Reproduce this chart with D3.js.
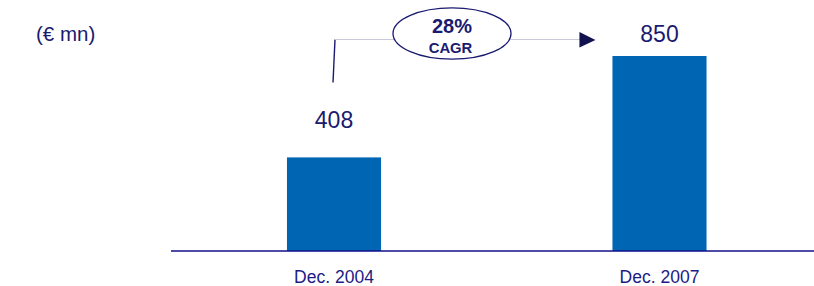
<!DOCTYPE html>
<html>
<head>
<meta charset="utf-8">
<script src="https://cdn.jsdelivr.net/npm/d3@7"></script>
<style>
  body { margin: 0; background: #fff; }
  text { font-family: "Liberation Sans", Arial, sans-serif; }
</style>
</head>
<body>
<div id="chart"></div>
<script>
const width = 814, height = 286;

// data
const categories = ["Dec. 2004", "Dec. 2007"];
const values = [408, 850];
const unitLabel = "(€ mn)";
const cagrPct = "28%";
const cagrLabel = "CAGR";

const navy = "#1a1a70";
const barColor = "#0066b3";

const svg = d3.select("#chart").append("svg")
    .attr("width", width)
    .attr("height", height);

const x = d3.scaleBand()
    .domain(categories)
    .range([171.25, 822.25])
    .paddingInner(0.711)
    .paddingOuter(0.3555);

const y = d3.scaleLinear()
    .domain([0, 850])
    .range([251, 56]);

// bars
svg.append("g")
    .selectAll("rect")
    .data(values)
    .enter().append("rect")
    .attr("x", (d, i) => x(categories[i]))
    .attr("y", d => y(d))
    .attr("width", x.bandwidth())
    .attr("height", d => y(0) - y(d))
    .attr("fill", barColor);

// baseline
svg.append("line")
    .attr("x1", 171).attr("x2", width)
    .attr("y1", y(0)).attr("y2", y(0))
    .attr("stroke", "#10108a")
    .attr("stroke-width", 1.6);

// category labels
svg.append("g")
    .selectAll("text")
    .data(categories)
    .enter().append("text")
    .attr("x", d => x(d) + x.bandwidth() / 2)
    .attr("y", 283)
    .attr("text-anchor", "middle")
    .attr("font-size", "17.5px")
    .attr("fill", "#1c1c86")
    .text(d => d);

// value labels
svg.append("g")
    .selectAll("text")
    .data(values)
    .enter().append("text")
    .attr("x", (d, i) => x(categories[i]) + x.bandwidth() / 2)
    .attr("y", d => Math.max(y(d) - 29, 42))
    .attr("text-anchor", "middle")
    .attr("font-size", "23px")
    .attr("fill", navy)
    .text(d => d);

// unit
svg.append("text")
    .attr("x", 36).attr("y", 41)
    .attr("font-size", "20.5px")
    .attr("fill", navy)
    .text(unitLabel);

// CAGR connector
const cx0 = x(categories[0]) + x.bandwidth() / 2;
const tipX = x(categories[1]) - 17;
const lineY = 39.5;
const ell = { cx: 452, cy: 33.5, rx: 59, ry: 25.7 };

svg.append("line")
    .attr("x1", cx0 - 1).attr("y1", 82.5)
    .attr("x2", cx0 + 1).attr("y2", lineY)
    .attr("stroke", navy)
    .attr("stroke-width", 1.4);

svg.append("line")
    .attr("x1", cx0 + 1).attr("x2", tipX - 15)
    .attr("y1", lineY).attr("y2", lineY)
    .attr("stroke", "#c9c9da")
    .attr("stroke-width", 1.2);

svg.append("path")
    .attr("d", `M${tipX - 16},${lineY - 7.5} L${tipX},${lineY + 0.5} L${tipX - 16},${lineY + 8} Z`)
    .attr("fill", "#12124e");

svg.append("ellipse")
    .attr("cx", ell.cx).attr("cy", ell.cy)
    .attr("rx", ell.rx).attr("ry", ell.ry)
    .attr("fill", "#fff")
    .attr("stroke", navy)
    .attr("stroke-width", 1.3);

svg.append("text")
    .attr("x", ell.cx).attr("y", 33.3)
    .attr("text-anchor", "middle")
    .attr("font-size", "20px")
    .attr("font-weight", "bold")
    .attr("fill", navy)
    .text(cagrPct);

svg.append("text")
    .attr("x", ell.cx - 1.5).attr("y", 53)
    .attr("text-anchor", "middle")
    .attr("font-size", "14.8px")
    .attr("font-weight", "bold")
    .attr("fill", navy)
    .text(cagrLabel);
</script>
</body>
</html>
